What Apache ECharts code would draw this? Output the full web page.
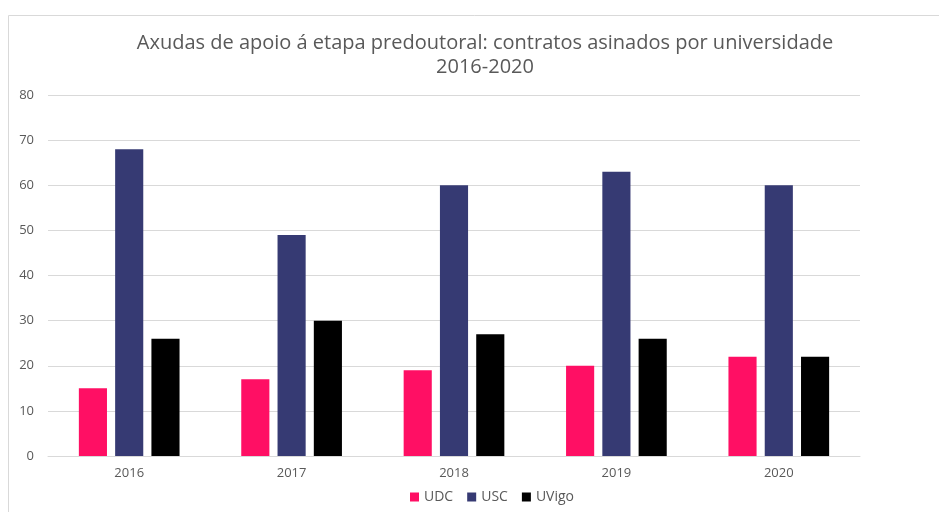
<!DOCTYPE html>
<html>
<head>
<meta charset="utf-8">
<script src="https://cdn.jsdelivr.net/npm/echarts@6/dist/echarts.min.js"></script>
<style>html,body{margin:0;padding:0;background:#fff}#c{width:939px;height:512px}</style>
</head>
<body>
<div id="c"></div>
<script>
const categories = ['2016', '2017', '2018', '2019', '2020'];
const udc = [15, 17, 19, 20, 22];
const usc = [68, 49, 60, 63, 60];
const uvigo = [26, 30, 27, 26, 22];
const seriesNames = ['UDC', 'USC', 'UVigo'];
const colors = ['#FF0F64', '#363A73', '#000000'];

const chart = echarts.init(document.getElementById('c'));
const font = '"Open Sans", "Noto Sans", sans-serif';
chart.setOption({
  animation: false,
  color: colors,
  textStyle: { fontFamily: font },
  graphic: [{
    type: 'rect', shape: { x: 8.5, y: 15.5, width: 940, height: 520 },
    style: { fill: 'none', stroke: '#d9d9d9', lineWidth: 1 }, silent: true
  }],
  title: {
    text: 'Axudas de apoio á etapa predoutoral: contratos asinados por universidade\n2016-2020',
    left: 480, top: 26, textAlign: 'center',
    textStyle: { fontSize: 20, fontWeight: 'normal', color: '#595959', lineHeight: 24, fontFamily: font }
  },
  legend: {
    bottom: 3, left: 405, itemWidth: 9, itemHeight: 9, itemGap: 14,
    icon: 'rect',
    textStyle: { fontSize: 14, color: '#595959', fontFamily: font },
    data: seriesNames
  },
  grid: { left: 48, right: 79, top: 95, bottom: 56, containLabel: false },
  xAxis: {
    type: 'category', data: categories,
    axisLine: { lineStyle: { color: '#d9d9d9' } },
    axisTick: { show: false },
    axisLabel: { color: '#595959', fontSize: 13, margin: 11, fontFamily: font }
  },
  yAxis: {
    type: 'value', min: 0, max: 80, interval: 10,
    axisLine: { show: false }, axisTick: { show: false },
    splitLine: { lineStyle: { color: '#d9d9d9' } },
    axisLabel: { color: '#595959', fontSize: 13, margin: 14, fontFamily: font }
  },
  series: [
    { name: 'UDC', type: 'bar', data: udc, barGap: '29%', barCategoryGap: '38%' },
    { name: 'USC', type: 'bar', data: usc, barGap: '29%', barCategoryGap: '38%' },
    { name: 'UVigo', type: 'bar', data: uvigo, barGap: '29%', barCategoryGap: '38%' }
  ]
});
</script>
</body>
</html>
